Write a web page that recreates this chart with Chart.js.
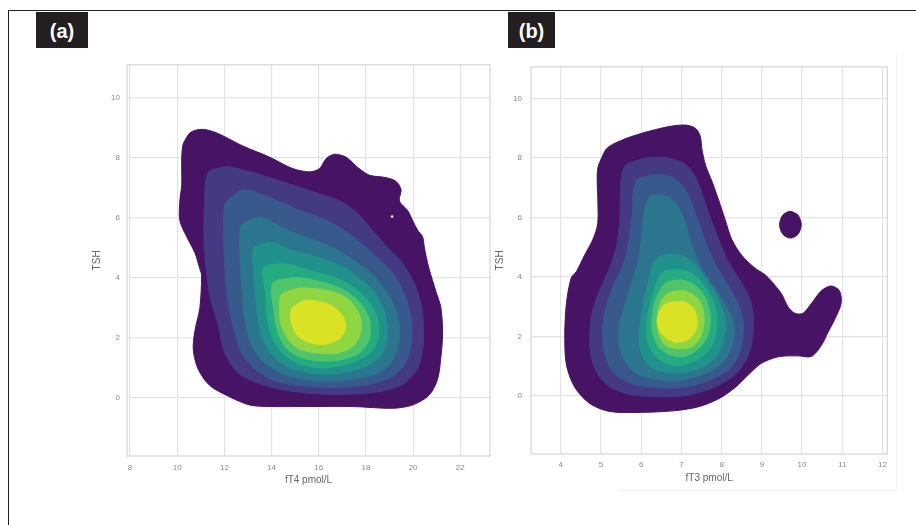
<!DOCTYPE html>
<html>
<head>
<meta charset="utf-8">
<script src="https://cdn.jsdelivr.net/npm/chart.js@4.4.1/dist/chart.umd.min.js"></script>
<style>
    body { margin: 0; background: #fff; width: 916px; height: 525px; position: relative; overflow: hidden; font-family: Arial, "Liberation Sans", sans-serif; }
    .rule { position: absolute; background: #222; }
    .faint { position: absolute; background: #f0f0f0; }
    .tag { position: absolute; top: 12px; height: 36px; box-sizing: border-box; padding-top: 3px; display: flex; align-items: center; justify-content: center; background: #231f20; color: #fff; font: bold 20px Arial, "Liberation Sans", sans-serif; }
    canvas { position: absolute; }
</style>
</head>
<body>
<div class="rule" style="left:8px;top:10px;width:908px;height:1px"></div>
<div class="rule" style="left:8px;top:10px;width:1px;height:515px"></div>
<div class="faint" style="left:896px;top:53px;width:1px;height:437px"></div>
<div class="faint" style="left:620px;top:490px;width:277px;height:1px"></div>
<div class="tag" style="left:36px;width:52px">(a)</div>
<div class="tag" style="left:508px;width:47px">(b)</div>
<canvas id="chartA" width="404" height="438" style="left:90px;top:53px"></canvas>
<canvas id="chartB" width="399" height="436" style="left:494px;top:53px"></canvas>
<script>
// viridis bands, outermost first
const LEVEL_COLORS = ['#471365', '#443983', '#38598c', '#2b758e', '#21918c', '#25ab82', '#50c46a', '#90d643', '#dae226'];

const Y_TICKS = [0, 2, 4, 6, 8, 10];
const X_TICKS_A = [8, 10, 12, 14, 16, 18, 20, 22];
const X_TICKS_B = [4, 5, 6, 7, 8, 9, 10, 11, 12];

// (a) TSH vs fT4 density contours, [fT4, TSH]
const A_L0 = [[10.25,8.45],[10.54,8.83],[11.03,8.95],[11.67,8.83],[12.79,8.39],[13.92,8.02],[14.90,7.64],[15.61,7.53],[16.03,7.64],[16.32,7.98],[16.67,8.12],[17.16,8.02],[17.71,7.64],[18.15,7.42],[18.85,7.34],[19.28,7.21],[19.49,6.94],[19.42,6.56],[19.77,6.24],[19.98,5.91],[20.19,5.59],[20.40,5.37],[20.47,5.05],[20.55,4.72],[20.68,4.29],[20.97,3.54],[21.18,3.00],[21.25,2.14],[21.18,1.38],[21.04,0.63],[20.68,0.09],[19.98,-0.24],[19.13,-0.35],[17.44,-0.29],[15.61,-0.29],[13.92,-0.29],[13.07,-0.24],[12.23,0.03],[11.38,0.41],[10.89,0.95],[10.68,1.60],[10.75,2.24],[10.96,3.00],[11.03,4.08],[10.96,4.29],[10.75,4.83],[10.40,5.37],[10.11,5.91],[10.11,6.56],[10.19,7.10],[10.19,7.96]];
const A_L1 = [[11.38,7.57],[12.14,7.70],[13.50,7.44],[14.89,7.09],[15.91,6.83],[16.88,6.57],[17.60,6.18],[18.15,5.70],[18.87,5.05],[19.54,4.50],[20.09,3.75],[20.39,2.88],[20.43,1.81],[20.18,0.97],[19.50,0.42],[18.15,0.16],[16.03,0.13],[14.13,0.32],[12.65,0.78],[12.02,1.49],[11.72,2.46],[11.38,3.43],[11.21,4.40],[11.13,5.53],[11.17,6.67],[11.21,7.25]];
const A_L2 = [[12.06,6.50],[12.78,6.93],[13.92,6.67],[15.19,6.25],[16.24,5.95],[17.09,5.57],[17.81,5.15],[18.57,4.60],[19.20,4.08],[19.67,3.37],[19.92,2.59],[19.92,1.81],[19.63,1.10],[18.99,0.65],[17.72,0.39],[16.03,0.36],[14.34,0.52],[13.37,0.91],[12.74,1.49],[12.40,2.30],[12.14,3.27],[12.02,4.40],[11.97,5.53]];
const A_L3 = [[12.74,5.76],[13.50,6.02],[14.55,5.63],[15.61,5.31],[16.67,4.98],[17.51,4.56],[18.23,4.14],[18.82,3.59],[19.25,2.94],[19.42,2.30],[19.33,1.65],[18.99,1.10],[18.36,0.78],[17.30,0.61],[16.03,0.58],[14.76,0.71],[13.83,1.10],[13.20,1.68],[12.90,2.46],[12.78,3.27],[12.69,4.24],[12.65,5.05]];
const A_L4 = [[13.24,4.98],[13.92,5.18],[14.98,4.89],[16.03,4.66],[17.09,4.34],[17.81,3.92],[18.44,3.43],[18.82,2.78],[18.91,2.14],[18.70,1.49],[18.15,1.10],[17.09,0.84],[16.03,0.79],[14.98,0.94],[14.26,1.26],[13.71,1.81],[13.45,2.46],[13.33,3.27],[13.24,4.14]];
const A_L5 = [[13.67,4.34],[14.55,4.47],[15.61,4.24],[16.67,4.01],[17.51,3.66],[18.15,3.17],[18.53,2.52],[18.49,1.88],[18.06,1.42],[17.09,1.10],[16.03,1.00],[15.10,1.16],[14.47,1.49],[14.05,1.97],[13.83,2.62],[13.75,3.43]];
const A_L6 = [[14.05,3.82],[14.98,4.01],[16.03,3.88],[17.01,3.62],[17.72,3.20],[18.15,2.62],[18.15,1.97],[17.72,1.49],[16.88,1.26],[16.03,1.23],[15.19,1.36],[14.60,1.68],[14.26,2.20],[14.09,2.94]];
const A_L7 = [[14.43,3.46],[15.19,3.66],[16.46,3.56],[17.22,3.30],[17.72,2.78],[17.81,2.30],[17.51,1.75],[16.79,1.49],[16.03,1.49],[15.19,1.62],[14.68,1.97],[14.38,2.52],[14.34,3.11]];
const A_L8 = [[14.89,3.01],[15.40,3.24],[16.03,3.20],[16.67,3.01],[17.09,2.62],[17.13,2.27],[16.88,1.97],[16.24,1.78],[15.61,1.84],[15.10,2.07],[14.85,2.46],[14.81,2.78]];
const A_HOLE = [[19.11,6.04]];

// (b) TSH vs fT3 density contours, [fT3, TSH]
const B_L0 = [[4.92,7.65],[5.13,8.30],[5.46,8.57],[6.03,8.84],[6.69,9.06],[7.10,9.11],[7.35,9.00],[7.47,8.73],[7.51,8.30],[7.60,7.76],[7.76,7.22],[7.93,6.57],[8.09,5.92],[8.25,5.27],[8.50,4.73],[8.83,4.30],[9.08,4.08],[9.24,3.86],[9.49,3.43],[9.65,3.00],[9.82,2.78],[10.02,2.78],[10.23,3.11],[10.48,3.54],[10.72,3.70],[10.93,3.54],[10.97,3.11],[10.81,2.57],[10.64,2.13],[10.48,1.70],[10.23,1.33],[9.90,1.35],[9.41,1.32],[8.99,1.10],[8.67,0.72],[8.34,0.29],[7.93,-0.09],[7.43,-0.36],[6.86,-0.49],[6.03,-0.55],[5.21,-0.52],[4.72,-0.25],[4.35,0.29],[4.14,1.05],[4.10,2.02],[4.14,3.11],[4.26,3.97],[4.39,4.19],[4.59,4.73],[4.80,5.27],[4.92,5.81],[4.92,6.68]];
const B_L1 = [[5.62,7.76],[6.07,7.99],[6.57,8.02],[7.06,7.83],[7.36,7.34],[7.56,6.62],[7.73,5.97],[7.93,5.26],[8.17,4.51],[8.47,3.86],[8.72,3.21],[8.79,2.47],[8.72,1.59],[8.42,0.84],[7.93,0.36],[7.19,0.03],[6.44,-0.03],[5.70,0.06],[5.16,0.36],[4.84,0.94],[4.72,1.75],[4.77,2.73],[4.96,3.54],[5.21,4.29],[5.38,5.00],[5.46,5.81],[5.48,6.62],[5.51,7.34]];
const B_L2 = [[5.90,7.27],[6.32,7.44],[6.74,7.37],[7.06,7.01],[7.26,6.46],[7.43,5.81],[7.63,5.07],[7.88,4.35],[8.17,3.70],[8.42,3.05],[8.54,2.40],[8.47,1.59],[8.22,0.94],[7.73,0.55],[7.06,0.29],[6.32,0.29],[5.70,0.45],[5.28,0.84],[5.09,1.43],[5.04,2.24],[5.14,3.05],[5.33,3.77],[5.58,4.51],[5.70,5.33],[5.78,6.14],[5.80,6.79]];
const B_L3 = [[6.20,6.69],[6.52,6.75],[6.81,6.56],[7.06,5.97],[7.23,5.16],[7.48,4.35],[7.80,3.70],[8.10,3.05],[8.30,2.47],[8.27,1.75],[8.05,1.17],[7.63,0.78],[7.06,0.55],[6.44,0.55],[5.95,0.71],[5.63,1.10],[5.46,1.69],[5.46,2.40],[5.60,3.12],[5.78,3.86],[5.95,4.68],[6.02,5.49],[6.07,6.14]];
const B_L4 = [[6.44,4.68],[6.81,4.77],[7.19,4.61],[7.48,4.19],[7.80,3.54],[8.02,2.89],[8.10,2.40],[8.02,1.75],[7.80,1.23],[7.43,0.91],[6.94,0.78],[6.44,0.84],[6.10,1.17],[5.95,1.75],[5.98,2.47],[6.07,3.21],[6.20,3.96],[6.30,4.42]];
const B_L5 = [[6.57,4.19],[6.94,4.25],[7.31,4.09],[7.60,3.64],[7.83,3.05],[7.88,2.40],[7.78,1.75],[7.51,1.33],[7.06,1.05],[6.62,1.10],[6.30,1.43],[6.15,1.92],[6.15,2.57],[6.25,3.21],[6.37,3.77]];
const B_L6 = [[6.64,3.83],[7.01,3.90],[7.36,3.70],[7.60,3.28],[7.72,2.66],[7.65,2.01],[7.43,1.59],[7.06,1.33],[6.69,1.40],[6.42,1.69],[6.27,2.21],[6.30,2.89],[6.42,3.44]];
const B_L7 = [[6.69,3.47],[7.06,3.54],[7.36,3.34],[7.53,2.95],[7.56,2.47],[7.48,1.98],[7.26,1.66],[6.94,1.59],[6.62,1.69],[6.44,2.08],[6.39,2.57],[6.47,3.12]];
const B_L8 = [[6.74,3.15],[7.06,3.16],[7.28,2.99],[7.38,2.63],[7.36,2.21],[7.19,1.92],[6.89,1.81],[6.62,1.95],[6.44,2.27],[6.42,2.69],[6.54,3.02]];
const B_ISLAND = [[9.71,6.21],[9.90,6.08],[9.98,5.76],[9.90,5.44],[9.71,5.31],[9.52,5.44],[9.44,5.76],[9.52,6.08]];

const A_LEVELS = [A_L0, A_L1, A_L2, A_L3, A_L4, A_L5, A_L6, A_L7, A_L8];
const B_LEVELS = [B_L0, B_L1, B_L2, B_L3, B_L4, B_L5, B_L6, B_L7, B_L8];

const GRID = '#e3e3e3';
const FRAME = '#d6d6d6';
const TICK_TEXT = '#888888';
const TITLE_TEXT = '#666666';

const frameBox = {
    id: 'frameBox',
    beforeDatasetsDraw(chart) {
        const { ctx, chartArea: a } = chart;
        ctx.save();
        ctx.strokeStyle = FRAME;
        ctx.lineWidth = 1.2;
        ctx.strokeRect(a.left, a.top, a.right - a.left, a.bottom - a.top);
        ctx.restore();
    },
};

// run past the start by two points so the spline closes smoothly
function closedRing(points, color, order) {
    return {
        data: points.concat([points[0], points[1]]).map(([x, y]) => ({ x, y })),
        showLine: true,
        fill: 'shape',
        tension: 0.3,
        backgroundColor: color,
        borderColor: color,
        borderWidth: 1,
        pointRadius: 0,
        order,
    };
}

function createContourChart(canvasId, levels, extras, axis) {
    const ctx = document.getElementById(canvasId);
    const datasets = levels.map((pts, i) => closedRing(pts, LEVEL_COLORS[i], levels.length - i));
    return new Chart(ctx, {
        type: 'scatter',
        data: { datasets: datasets.concat(extras) },
        options: {
            responsive: false,
            animation: false,
            layout: { padding: { top: 0, right: 3, bottom: 0, left: 0 } },
            scales: {
                x: {
                    type: 'linear',
                    min: axis.xMin, max: axis.xMax,
                    afterBuildTicks: s => { s.ticks = axis.xTicks.map(v => ({ value: v })); },
                    afterFit: s => { s.height = 35; },
                    ticks: { color: TICK_TEXT, font: { size: 8 }, padding: axis.xPad, maxRotation: 0 },
                    grid: { color: GRID, lineWidth: 1.2, drawTicks: false },
                    border: { display: false },
                    title: { display: true, text: axis.xTitle, color: TITLE_TEXT, font: { size: 10 }, padding: { top: 0, bottom: 5 } },
                },
                y: {
                    type: 'linear',
                    min: axis.yMin, max: axis.yMax,
                    afterBuildTicks: s => { s.ticks = Y_TICKS.map(v => ({ value: v })); },
                    afterFit: s => { s.width = 37; },
                    ticks: { color: TICK_TEXT, font: { size: 8 }, padding: axis.yPad },
                    grid: { color: GRID, lineWidth: 1.2, drawTicks: false },
                    border: { display: false },
                    title: { display: true, text: 'TSH', color: TITLE_TEXT, font: { size: 10 }, padding: { top: axis.yTitlePad, bottom: 0 } },
                },
            },
            plugins: {
                legend: { display: false },
                tooltip: { enabled: false },
            },
        },
        plugins: [frameBox],
    });
}

createContourChart('chartA', A_LEVELS, [{
    data: A_HOLE.map(([x, y]) => ({ x, y })),
    pointRadius: 1.3,
    pointBackgroundColor: '#ffffff',
    pointBorderWidth: 0,
    order: 0,
}], {
    xMin: 7.87, xMax: 23.26, yMin: -1.94, yMax: 11.1,
    xTicks: X_TICKS_A, xTitle: 'fT4 pmol/L', xPad: 7, yPad: 7, yTitlePad: 1,
});

createContourChart('chartB', B_LEVELS, [closedRing(B_ISLAND, LEVEL_COLORS[0], B_LEVELS.length)], {
    xMin: 3.26, xMax: 12.12, yMin: -1.95, yMax: 11.07,
    xTicks: X_TICKS_B, xTitle: 'fT3 pmol/L', xPad: 6, yPad: 9, yTitlePad: 0,
});
</script>
</body>
</html>
